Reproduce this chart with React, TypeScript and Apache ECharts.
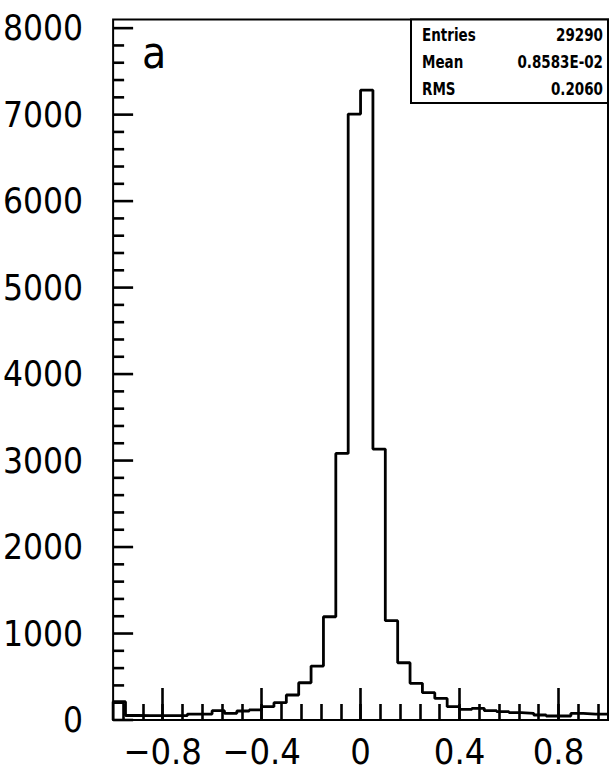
import React, { useEffect, useRef } from 'react';
import * as echarts from 'echarts';

// Histogram: 40 bins from -1 to 1 (width 0.05)
const binLow = -1;
const binWidth = 0.05;
const counts = [
  212, 52, 50, 50, 50, 50, 69, 69, 108, 77,
  104, 116, 154, 200, 289, 431, 624, 1194, 3083, 7006,
  7283, 3133, 1148, 662, 424, 316, 250, 154, 123, 135,
  108, 96, 85, 77, 58, 46, 46, 77, 69, 69,
];

const xMajorTicks = [-0.8, -0.4, 0, 0.4, 0.8];
const xMinorTicks = [
  -0.96, -0.88, -0.8, -0.72, -0.64, -0.56, -0.48, -0.4, -0.32, -0.24, -0.16, -0.08, 0,
  0.08, 0.16, 0.24, 0.32, 0.4, 0.48, 0.56, 0.64, 0.72, 0.8, 0.88, 0.96,
];
const yMajorTicks = [0, 1000, 2000, 3000, 4000, 5000, 6000, 7000, 8000];
const yMax = 8100;
const yMinorStep = 200;

const statsLabels = ['Entries', 'Mean', 'RMS'];
const statsValues = ['29290', '0.8583E-02', '0.2060'];
const panelLabel = 'a';

const FONT = "'Liberation Sans Narrow', 'DejaVu Sans Condensed', 'Liberation Sans', sans-serif";

export default function App() {
  const ref = useRef<HTMLDivElement>(null);

  useEffect(() => {
    document.body.style.margin = '0';
    if (!ref.current) return;
    const chart = echarts.init(ref.current, null, { renderer: 'svg' });

    const stepData: number[][] = [[binLow, 0]];
    counts.forEach((c, i) => {
      stepData.push([+(binLow + i * binWidth).toFixed(4), c]);
    });
    stepData.push([+(binLow + counts.length * binWidth).toFixed(4), counts[counts.length - 1]]);

    // y tick positions on the left frame
    const yTickData: number[][] = [];
    for (let v = 0; v <= 8000; v += yMinorStep) yTickData.push([binLow, v]);

    const tickStyle = { color: '#000', width: 2.6 };
    const fmtX = (v: number) => (v === 0 ? '0' : (v < 0 ? '\u2212' : '') + Math.abs(v).toFixed(1));

    const rowY = [35, 62, 89];
    const graphics: any[] = [
      {
        type: 'rect',
        shape: { x: 411, y: 19.5, width: 197, height: 83.5 },
        style: { fill: '#fff', stroke: '#000', lineWidth: 2 },
        z: 10,
      },
      {
        type: 'text',
        x: 154,
        y: 52,
        style: {
          text: panelLabel,
          font: `normal 44px ${FONT}`,
          fill: '#000',
          align: 'center',
          verticalAlign: 'middle',
        },
        z: 10,
      },
    ];
    statsLabels.forEach((lab, i) => {
      graphics.push({
        type: 'text',
        x: 422,
        y: rowY[i],
        scaleY: 1.2,
        style: {
          text: lab,
          font: `bold 15px ${FONT}`,
          fill: '#000',
          align: 'left',
          verticalAlign: 'middle',
        },
        z: 11,
      });
      graphics.push({
        type: 'text',
        x: 603,
        y: rowY[i],
        scaleY: 1.2,
        style: {
          text: statsValues[i],
          font: `bold 15px ${FONT}`,
          fill: '#000',
          align: 'right',
          verticalAlign: 'middle',
        },
        z: 11,
      });
    });

    const noLine = { show: false, onZero: false };

    chart.setOption({
      animation: false,
      backgroundColor: '#fff',
      grid: {
        left: 112,
        right: 1,
        top: 19.5,
        bottom: 55,
        show: true,
        borderColor: '#000',
        borderWidth: 2,
        backgroundColor: 'transparent',
      },
      xAxis: [
        {
          type: 'value',
          min: -1,
          max: 1,
          position: 'bottom',
          axisLine: noLine,
          splitLine: { show: false },
          axisTick: { show: true, inside: true, length: 32, customValues: xMajorTicks, lineStyle: tickStyle },
          axisLabel: {
            customValues: xMajorTicks,
            formatter: fmtX,
            color: '#000',
            fontSize: 36,
            fontFamily: FONT,
            margin: 13,
          },
        },
        {
          type: 'value',
          min: -1,
          max: 1,
          position: 'bottom',
          axisLine: noLine,
          splitLine: { show: false },
          axisTick: { show: true, inside: true, length: 16, customValues: xMinorTicks, lineStyle: tickStyle },
          axisLabel: { show: false },
        },
      ],
      yAxis: {
        type: 'value',
        min: 0,
        max: yMax,
        position: 'left',
        axisLine: noLine,
        splitLine: { show: false },
        axisTick: { show: false },
        axisLabel: {
          customValues: yMajorTicks,
          formatter: (v: number) => String(v),
          color: '#000',
          fontSize: 35,
          fontFamily: FONT,
          margin: 30,
        },
      },
      graphic: graphics,
      series: [
        {
          type: 'line',
          xAxisIndex: 0,
          yAxisIndex: 0,
          step: 'end',
          symbol: 'none',
          data: stepData,
          lineStyle: { color: '#000', width: 2.8 },
          z: 5,
        },
        {
          type: 'custom',
          xAxisIndex: 0,
          yAxisIndex: 0,
          clip: false,
          silent: true,
          data: yTickData,
          z: 6,
          renderItem: (params: any, api: any) => {
            const v = api.value(1);
            const p = api.coord([api.value(0), v]);
            const len = v % 1000 === 0 ? 20 : 11;
            return {
              type: 'line',
              shape: { x1: p[0], y1: p[1], x2: p[0] + len, y2: p[1] },
              style: { stroke: '#000', lineWidth: 2.6 },
            };
          },
        },
      ],
    });

    return () => chart.dispose();
  }, []);

  return <div ref={ref} style={{ width: 609, height: 775 }} />;
}
